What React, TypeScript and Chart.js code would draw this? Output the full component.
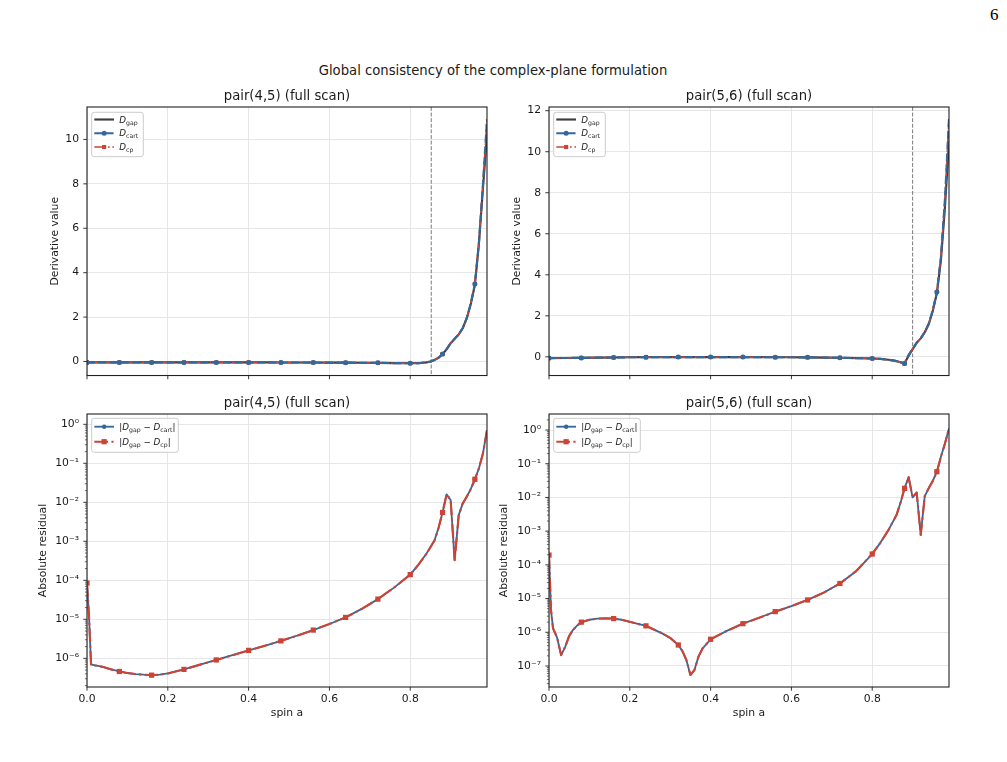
import React, { useEffect, useRef } from 'react';
import { Chart, registerables } from 'chart.js';

Chart.register(...registerables);

const FONT = '"DejaVu Sans", "Noto Sans", sans-serif';
const INK = '#1a1a1a';
const BLUE = '#33689b';
const RED = '#cc4436';
const GAP_COLOR = '#3d3d3d';
const GRID = '#e6e6e6';
const PT = 1.07;
const LABEL_SIZE = 10.8;
const TITLE_SIZE = 13.2;

// ---------------- data ----------------
const spinTop = [0, 0.04, 0.08, 0.12, 0.16, 0.2, 0.24, 0.28, 0.32, 0.36, 0.4, 0.44, 0.48, 0.52, 0.56, 0.6, 0.64, 0.68, 0.72, 0.76, 0.8,
  0.82, 0.84, 0.85, 0.86, 0.87, 0.88, 0.89, 0.9, 0.91, 0.92, 0.93, 0.94, 0.95, 0.96, 0.97, 0.98, 0.99];
const dGap45 = [-0.04, -0.04, -0.04, -0.04, -0.04, -0.04, -0.04, -0.04, -0.04, -0.04, -0.04, -0.04, -0.045, -0.045, -0.045, -0.05, -0.05, -0.055, -0.06, -0.07, -0.08,
  -0.075, -0.04, 0.0, 0.07, 0.17, 0.33, 0.55, 0.82, 1.02, 1.22, 1.5, 1.95, 2.6, 3.45, 5.3, 7.8, 10.2];
const dNum45 = [-0.04, -0.04, -0.04, -0.04, -0.04, -0.04, -0.04, -0.04, -0.04, -0.04, -0.04, -0.04, -0.045, -0.045, -0.045, -0.05, -0.05, -0.055, -0.06, -0.07, -0.08,
  -0.075, -0.04, 0.0, 0.07, 0.17, 0.335, 0.56, 0.83, 1.03, 1.225, 1.51, 1.96, 2.62, 3.49, 5.37, 7.98, 10.9];
const dGap56 = [-0.06, -0.055, -0.05, -0.04, -0.03, -0.02, -0.015, -0.01, -0.01, -0.01, -0.01, -0.01, -0.01, -0.015, -0.02, -0.02, -0.025, -0.035, -0.045, -0.06, -0.08,
  -0.1, -0.14, -0.17, -0.21, -0.26, -0.31, 0.05, 0.38, 0.68, 0.9, 1.2, 1.6, 2.25, 3.1, 4.7, 7.3, 10.5];
const dNum56 = [-0.06, -0.055, -0.05, -0.04, -0.03, -0.02, -0.015, -0.01, -0.01, -0.01, -0.01, -0.01, -0.01, -0.015, -0.02, -0.02, -0.025, -0.035, -0.045, -0.06, -0.08,
  -0.1, -0.14, -0.17, -0.21, -0.267, -0.33, 0.09, 0.39, 0.69, 0.9, 1.21, 1.62, 2.28, 3.16, 4.86, 7.7, 11.6];

const spinRes45 = [0, 0.005, 0.01, 0.02, 0.04, 0.06, 0.08, 0.1, 0.12, 0.14, 0.16, 0.18, 0.2, 0.24, 0.28, 0.32, 0.36, 0.4, 0.44, 0.48, 0.52, 0.56, 0.6, 0.64, 0.68, 0.72, 0.76, 0.8,
  0.82, 0.84, 0.86, 0.87, 0.88, 0.89, 0.9, 0.91, 0.92, 0.93, 0.94, 0.95, 0.96, 0.97, 0.98, 0.99];
const resCart45 = [8.5e-5, 1.2e-5, 7.0e-7, 6.6e-7, 6.0e-7, 5.2e-7, 4.6e-7, 4.2e-7, 3.95e-7, 3.8e-7, 3.7e-7, 3.8e-7, 4.1e-7, 5.2e-7, 6.9e-7, 9.1e-7, 1.2e-6, 1.6e-6, 2.1e-6, 2.8e-6, 3.8e-6, 5.3e-6, 7.6e-6, 1.12e-5, 1.85e-5, 3.3e-5, 6.5e-5, 1.4e-4,
  2.5e-4, 4.8e-4, 1.05e-3, 2.2e-3, 5.5e-3, 1.6e-2, 1.15e-2, 3.3e-4, 4.7e-3, 9.4e-3, 1.4e-2, 2.2e-2, 3.9e-2, 7.4e-2, 1.8e-1, 7.1e-1];
const resCp45 = [8.5e-5, 1.2e-5, 7.0e-7, 6.6e-7, 6.0e-7, 5.2e-7, 4.6e-7, 4.2e-7, 3.95e-7, 3.8e-7, 3.7e-7, 3.8e-7, 4.1e-7, 5.2e-7, 6.9e-7, 9.1e-7, 1.2e-6, 1.6e-6, 2.1e-6, 2.8e-6, 3.8e-6, 5.3e-6, 7.6e-6, 1.12e-5, 1.85e-5, 3.3e-5, 6.5e-5, 1.4e-4,
  2.5e-4, 4.8e-4, 1.05e-3, 2.2e-3, 5.5e-3, 1.6e-2, 1.15e-2, 3.3e-4, 4.7e-3, 9.4e-3, 1.4e-2, 2.2e-2, 3.9e-2, 7.4e-2, 1.8e-1, 7.1e-1];

const spinRes56 = [0, 0.005, 0.01, 0.02, 0.03, 0.04, 0.05, 0.06, 0.07, 0.08, 0.1, 0.12, 0.14, 0.16, 0.18, 0.2, 0.24, 0.28, 0.3, 0.32, 0.33, 0.34, 0.35, 0.36, 0.37, 0.38,
  0.4, 0.44, 0.48, 0.52, 0.56, 0.6, 0.64, 0.68, 0.72, 0.76, 0.8, 0.82, 0.84, 0.86, 0.87, 0.88, 0.89, 0.9, 0.91, 0.92, 0.93, 0.94, 0.95, 0.96, 0.97, 0.98, 0.99];
const resCart56 = [1.95e-4, 4.5e-6, 1.3e-6, 7e-7, 2.1e-7, 3.7e-7, 7.8e-7, 1.2e-6, 1.6e-6, 2.0e-6, 2.35e-6, 2.55e-6, 2.6e-6, 2.55e-6, 2.35e-6, 2.05e-6, 1.55e-6, 9.3e-7, 6.8e-7, 4.2e-7, 2.8e-7, 1.5e-7, 5.4e-8, 7.6e-8, 1.9e-7, 3.3e-7,
  6.2e-7, 1.1e-6, 1.8e-6, 2.7e-6, 4.1e-6, 6.0e-6, 9.1e-6, 1.5e-5, 2.8e-5, 6.5e-5, 2.1e-4, 4.5e-4, 1.07e-3, 3.0e-3, 7.0e-3, 1.86e-2, 4.0e-2, 1.0e-2, 1.4e-2, 7.7e-4, 1.1e-2, 1.9e-2, 3.1e-2, 5.8e-2, 1.6e-1, 4.0e-1, 1.12];
const resCp56 = [1.95e-4, 4.5e-6, 1.3e-6, 7e-7, 2.1e-7, 3.7e-7, 7.8e-7, 1.2e-6, 1.6e-6, 2.0e-6, 2.35e-6, 2.55e-6, 2.6e-6, 2.55e-6, 2.35e-6, 2.05e-6, 1.55e-6, 9.3e-7, 6.8e-7, 4.2e-7, 2.8e-7, 1.5e-7, 5.4e-8, 7.6e-8, 1.9e-7, 3.3e-7,
  6.2e-7, 1.1e-6, 1.8e-6, 2.7e-6, 4.1e-6, 6.0e-6, 9.1e-6, 1.5e-5, 2.8e-5, 6.5e-5, 2.1e-4, 4.5e-4, 1.07e-3, 3.0e-3, 7.0e-3, 1.86e-2, 4.0e-2, 1.0e-2, 1.4e-2, 7.7e-4, 1.1e-2, 1.9e-2, 3.1e-2, 5.8e-2, 1.6e-1, 4.0e-1, 1.12];

const markerSpins = [0, 0.08, 0.16, 0.24, 0.32, 0.4, 0.48, 0.56, 0.64, 0.72, 0.8, 0.88, 0.96];
const critSpins = [0.852, 0.9];
const spinTicks = [0, 0.2, 0.4, 0.6, 0.8];
const spinLimits = [0, 0.99];
const derivTicks45 = [0, 2, 4, 6, 8, 10];
const derivTicks56 = [0, 2, 4, 6, 8, 10, 12];
const derivLimits45 = [-0.63, 11.46];
const derivLimits56 = [-0.91, 12.18];
const resDecades45 = [-6, -5, -4, -3, -2, -1, 0];
const resDecades56 = [-7, -6, -5, -4, -3, -2, -1, 0];
const resLimits45 = [1.84e-7, 1.84];
const resLimits56 = [2.38e-8, 2.99];
const panelTitles = ['pair(4,5) (full scan)', 'pair(5,6) (full scan)', 'pair(4,5) (full scan)', 'pair(5,6) (full scan)'];
const axisTitles = ['Derivative value', 'Absolute residual', 'spin a'];
const suptitle = 'Global consistency of the complex-plane formulation';
const pageNumber = '6';

type Seg = [string, 'it' | 'rm' | 'sub'];
const lblGap: Seg[] = [['D', 'it'], ['gap', 'sub']];
const lblCart: Seg[] = [['D', 'it'], ['cart', 'sub']];
const lblCp: Seg[] = [['D', 'it'], ['cp', 'sub']];
const lblResCart: Seg[] = [['|', 'rm'], ['D', 'it'], ['gap', 'sub'], [' \u2212 ', 'rm'], ['D', 'it'], ['cart', 'sub'], ['|', 'rm']];
const lblResCp: Seg[] = [['|', 'rm'], ['D', 'it'], ['gap', 'sub'], [' \u2212 ', 'rm'], ['D', 'it'], ['cp', 'sub'], ['|', 'rm']];

// ---------------- styles ----------------
interface Style { color: string; lw: number; dash: number[]; marker: 'none' | 'circle' | 'rect'; r: number; z: number }
const dashed = (lw: number) => [3.7, 1.6].map((v) => v * lw * PT);
const dashdot = (lw: number) => [6.4, 1.6, 1, 1.6].map((v) => v * lw * PT);

const sGap: Style = { color: GAP_COLOR, lw: 2, dash: [], marker: 'none', r: 0, z: 3 };
const sCartTop: Style = { color: BLUE, lw: 2, dash: dashed(2), marker: 'circle', r: 2.5, z: 1 };
const sCpTop: Style = { color: RED, lw: 1.6, dash: dashdot(1.6), marker: 'rect', r: 2.9, z: 2 };
const sCartRes: Style = { color: BLUE, lw: 1.7, dash: [], marker: 'circle', r: 2.2, z: 2 };
const sCpRes: Style = { color: RED, lw: 2, dash: dashdot(2), marker: 'rect', r: 3.7, z: 1 };

interface Box { cl: number; cw: number; al: number; ar: number }
interface Row { ct: number; ch: number; at: number; ab: number }
const LEFT: Box = { cl: 0, cw: 500, al: 87, ar: 487 };
const RIGHT: Box = { cl: 490, cw: 517, al: 549, ar: 949 };
const TOP: Row = { ct: 80, ch: 310, at: 107, ab: 381 };
const BOT: Row = { ct: 390, ch: 340, at: 414, ab: 687 };

interface LegendGeom { dx: number; dy: number; w: number; h: number; rows: number[] }
const legTop: LegendGeom = { dx: 4.7, dy: 5.3, w: 51.6, h: 44.4, rows: [7.2, 20.9, 34.7] };
const legRes: LegendGeom = { dx: 4.7, dy: 4.3, w: 86.6, h: 34, rows: [8.4, 23.4] };

interface Spec {
  title: string; spin: number[];
  series: { label: Seg[]; values: number[]; style: Style }[];
  log: boolean; yLimits: number[]; yTicks: number[]; crit: number | null;
  yTitle: string; yTitleCenter: number; showX: boolean;
  col: Box; row: Row; legend: LegendGeom;
}

const specs: Spec[] = [
  {
    title: panelTitles[0], spin: spinTop,
    series: [
      { label: lblGap, values: dGap45, style: sGap },
      { label: lblCart, values: dNum45, style: sCartTop },
      { label: lblCp, values: dNum45, style: sCpTop },
    ],
    log: false, yLimits: derivLimits45, yTicks: derivTicks45, crit: critSpins[0],
    yTitle: axisTitles[0], yTitleCenter: 55, showX: false, col: LEFT, row: TOP, legend: legTop,
  },
  {
    title: panelTitles[1], spin: spinTop,
    series: [
      { label: lblGap, values: dGap56, style: sGap },
      { label: lblCart, values: dNum56, style: sCartTop },
      { label: lblCp, values: dNum56, style: sCpTop },
    ],
    log: false, yLimits: derivLimits56, yTicks: derivTicks56, crit: critSpins[1],
    yTitle: axisTitles[0], yTitleCenter: 516.7, showX: false, col: RIGHT, row: TOP, legend: legTop,
  },
  {
    title: panelTitles[2], spin: spinRes45,
    series: [
      { label: lblResCart, values: resCart45, style: sCartRes },
      { label: lblResCp, values: resCp45, style: sCpRes },
    ],
    log: true, yLimits: resLimits45, yTicks: resDecades45, crit: null,
    yTitle: axisTitles[1], yTitleCenter: 43.5, showX: true, col: LEFT, row: BOT, legend: legRes,
  },
  {
    title: panelTitles[3], spin: spinRes56,
    series: [
      { label: lblResCart, values: resCart56, style: sCartRes },
      { label: lblResCp, values: resCp56, style: sCpRes },
    ],
    log: true, yLimits: resLimits56, yTicks: resDecades56, crit: null,
    yTitle: axisTitles[1], yTitleCenter: 504, showX: true, col: RIGHT, row: BOT, legend: legRes,
  },
];

// ---------------- helpers ----------------
const SUP: Record<string, string> = { '-': '\u207b', '0': '\u2070', '1': '\u00b9', '2': '\u00b2', '3': '\u00b3', '4': '\u2074', '5': '\u2075', '6': '\u2076', '7': '\u2077', '8': '\u2078', '9': '\u2079' };
const sup = (n: number) => String(n).split('').map((c) => SUP[c] || c).join('');
const isDecade = (v: number) => v > 0 && Math.abs(Math.log10(v) - Math.round(Math.log10(v))) < 1e-9;
const isMarker = (x: number) => markerSpins.some((m) => Math.abs(m - x) < 1e-9);

function yTickList(spec: Spec) {
  if (!spec.log) return spec.yTicks.map((v) => ({ value: v, major: true }));
  const out: { value: number; major: boolean }[] = [];
  const lo = Math.floor(Math.log10(spec.yLimits[0]));
  const hi = Math.floor(Math.log10(spec.yLimits[1]));
  for (let d = lo; d <= hi; d++) {
    for (let m = 1; m <= 9; m++) {
      const v = m * Math.pow(10, d);
      if (v < spec.yLimits[0] || v > spec.yLimits[1]) continue;
      out.push({ value: v, major: m === 1 && spec.yTicks.includes(d) });
    }
  }
  return out;
}

function drawRich(ctx: CanvasRenderingContext2D, segs: Seg[], x: number, baseline: number, size: number) {
  let cx = x;
  ctx.textBaseline = 'alphabetic';
  ctx.textAlign = 'left';
  for (const [t, st] of segs) {
    const fs = st === 'sub' ? size * 0.7 : size;
    ctx.font = `${st === 'it' ? 'italic ' : ''}${fs}px ${FONT}`;
    const dy = st === 'sub' ? size * 0.24 : 0;
    ctx.fillText(t, cx, baseline + dy);
    cx += ctx.measureText(t).width;
  }
}

function drawMarker(ctx: CanvasRenderingContext2D, st: Style, x: number, y: number) {
  if (st.marker === 'none') return;
  ctx.fillStyle = st.color;
  ctx.beginPath();
  if (st.marker === 'circle') ctx.arc(x, y, st.r, 0, Math.PI * 2);
  else { const h = st.r * Math.SQRT1_2; ctx.rect(x - h, y - h, 2 * h, 2 * h); }
  ctx.fill();
}

function makePlugin(spec: Spec) {
  return {
    id: 'mplDecor',
    beforeDatasetsDraw(chart: any) {
      if (spec.crit == null) return;
      const { ctx, chartArea: a, scales } = chart;
      const px = scales.x.getPixelForValue(spec.crit);
      ctx.save();
      ctx.strokeStyle = '#7a7a7a';
      ctx.lineWidth = 1;
      ctx.setLineDash([3.9, 1.7]);
      ctx.beginPath();
      ctx.moveTo(px, a.top);
      ctx.lineTo(px, a.bottom);
      ctx.stroke();
      ctx.restore();
    },
    afterDatasetsDraw(chart: any) {
      const { ctx, chartArea: a, scales } = chart;
      ctx.save();
      ctx.strokeStyle = '#222';
      ctx.lineWidth = 1.1;
      ctx.strokeRect(a.left, a.top, a.right - a.left, a.bottom - a.top);
      for (const t of scales.x.ticks) {
        const px = scales.x.getPixelForValue(t.value);
        ctx.lineWidth = 0.9;
        ctx.beginPath(); ctx.moveTo(px, a.bottom); ctx.lineTo(px, a.bottom + 3.7); ctx.stroke();
      }
      for (const t of scales.y.ticks) {
        const py = scales.y.getPixelForValue(t.value);
        if (py < a.top - 0.5 || py > a.bottom + 0.5) continue;
        const major = t.major !== false;
        ctx.lineWidth = major ? 0.9 : 0.65;
        const len = major ? 3.7 : 2.1;
        ctx.beginPath(); ctx.moveTo(a.left - len, py); ctx.lineTo(a.left, py); ctx.stroke();
      }
      ctx.restore();
    },
    afterDraw(chart: any) {
      const { ctx, chartArea: a } = chart;
      ctx.save();
      ctx.fillStyle = INK;
      ctx.font = `${TITLE_SIZE}px ${FONT}`;
      ctx.textAlign = 'center';
      ctx.textBaseline = 'middle';
      ctx.fillText(spec.title, (a.left + a.right) / 2, a.top - 10.6);
      const g = spec.legend;
      const x0 = a.left + g.dx, y0 = a.top + g.dy;
      ctx.beginPath();
      if ((ctx as any).roundRect) (ctx as any).roundRect(x0, y0, g.w, g.h, 2.5);
      else ctx.rect(x0, y0, g.w, g.h);
      ctx.fillStyle = 'rgba(255,255,255,0.8)';
      ctx.fill();
      ctx.strokeStyle = '#cccccc';
      ctx.lineWidth = 1;
      ctx.stroke();
      spec.series.forEach((s, i) => {
        const y = y0 + g.rows[i];
        const lx0 = x0 + 2.6, lx1 = x0 + 22.3;
        ctx.strokeStyle = s.style.color;
        ctx.lineWidth = s.style.lw * PT;
        ctx.setLineDash(s.style.dash);
        ctx.lineCap = 'butt';
        ctx.beginPath(); ctx.moveTo(lx0, y); ctx.lineTo(lx1, y); ctx.stroke();
        ctx.setLineDash([]);
        drawMarker(ctx, s.style, (lx0 + lx1) / 2, y);
        ctx.fillStyle = INK;
        drawRich(ctx, s.label, x0 + 27.6, y + 3, 8.8);
      });
      ctx.restore();
    },
  };
}

function buildConfig(spec: Spec): any {
  const { col, row } = spec;
  const ticks = yTickList(spec);
  const lh = LABEL_SIZE * 1.2;
  const tickFont = { family: FONT, size: LABEL_SIZE };
  return {
    type: 'line',
    data: {
      datasets: spec.series.map((s) => ({
        label: s.label.map((x) => x[0]).join(''),
        data: spec.spin.map((x, i) => ({ x, y: s.values[i] })),
        borderColor: s.style.color,
        backgroundColor: s.style.color,
        borderWidth: s.style.lw * PT,
        borderDash: s.style.dash,
        borderCapStyle: 'butt',
        borderJoinStyle: 'round',
        tension: 0,
        fill: false,
        pointStyle: s.style.marker === 'rect' ? 'rect' : 'circle',
        pointRadius: (c: any) => (s.style.marker !== 'none' && isMarker(spec.spin[c.dataIndex]) ? s.style.r : 0),
        pointHoverRadius: 0,
        pointBorderWidth: 0,
        pointBackgroundColor: s.style.color,
        order: s.style.z,
      })),
    },
    options: {
      animation: false,
      responsive: false,
      devicePixelRatio: 1,
      events: [],
      layout: { padding: { left: 0, top: row.at - row.ct, right: col.cl + col.cw - col.ar, bottom: 0 } },
      plugins: { legend: { display: false }, tooltip: { enabled: false }, title: { display: false } },
      scales: {
        x: {
          type: 'linear', min: spinLimits[0], max: spinLimits[1],
          afterBuildTicks: (s: any) => { s.ticks = spinTicks.map((v) => ({ value: v })); },
          afterFit: (s: any) => { s.height = row.ct + row.ch - row.ab; },
          ticks: { display: spec.showX, callback: (v: any) => Number(v).toFixed(1), font: tickFont, color: INK, padding: 6, maxRotation: 0, autoSkip: false },
          grid: { color: GRID, lineWidth: 1, drawTicks: false },
          border: { display: false },
          title: { display: spec.showX, text: axisTitles[2], font: tickFont, color: INK, padding: { top: 0, bottom: (row.ct + row.ch) - 713 - lh / 2 } },
        },
        y: {
          type: spec.log ? 'logarithmic' : 'linear', min: spec.yLimits[0], max: spec.yLimits[1],
          afterBuildTicks: (s: any) => { s.ticks = ticks.map((t) => ({ ...t })); },
          afterFit: (s: any) => { s.width = col.al - col.cl; },
          ticks: {
            font: tickFont, color: INK, padding: 8, autoSkip: false,
            callback: (v: any) => {
              const n = Number(v);
              if (!spec.log) return String(n);
              return isDecade(n) ? '10' + sup(Math.round(Math.log10(n))) : '';
            },
          },
          grid: {
            color: (c: any) => (c.tick && (!spec.log || isDecade(c.tick.value)) ? GRID : 'rgba(0,0,0,0)'),
            lineWidth: 1, drawTicks: false,
          },
          border: { display: false },
          title: { display: true, text: spec.yTitle, font: tickFont, color: INK, padding: { top: spec.yTitleCenter - col.cl - lh / 2, bottom: 0 } },
        },
      },
    },
    plugins: [makePlugin(spec)],
  };
}

function Panel({ spec }: { spec: Spec }) {
  const ref = useRef<HTMLCanvasElement>(null);
  useEffect(() => {
    const chart = new Chart(ref.current as HTMLCanvasElement, buildConfig(spec));
    return () => chart.destroy();
  }, [spec]);
  const { col, row } = spec;
  return (
    <canvas
      ref={ref}
      width={col.cw}
      height={row.ch}
      style={{ position: 'absolute', left: col.cl, top: row.ct, width: col.cw, height: row.ch }}
    />
  );
}

export default function App() {
  return (
    <div style={{ position: 'absolute', left: 0, top: 0, width: 1007, height: 762, background: '#fff', overflow: 'hidden' }}>
      <div style={{ position: 'absolute', left: 990, top: 5, fontFamily: '"Liberation Serif", "DejaVu Serif", serif', fontSize: 17, lineHeight: '20px', color: '#000' }}>
        {pageNumber}
      </div>
      <div style={{ position: 'absolute', left: 0, width: 986, top: 62, textAlign: 'center', fontFamily: FONT, fontSize: TITLE_SIZE, lineHeight: '18px', color: INK }}>
        {suptitle}
      </div>
      {specs.map((s, i) => <Panel key={i} spec={s} />)}
    </div>
  );
}
